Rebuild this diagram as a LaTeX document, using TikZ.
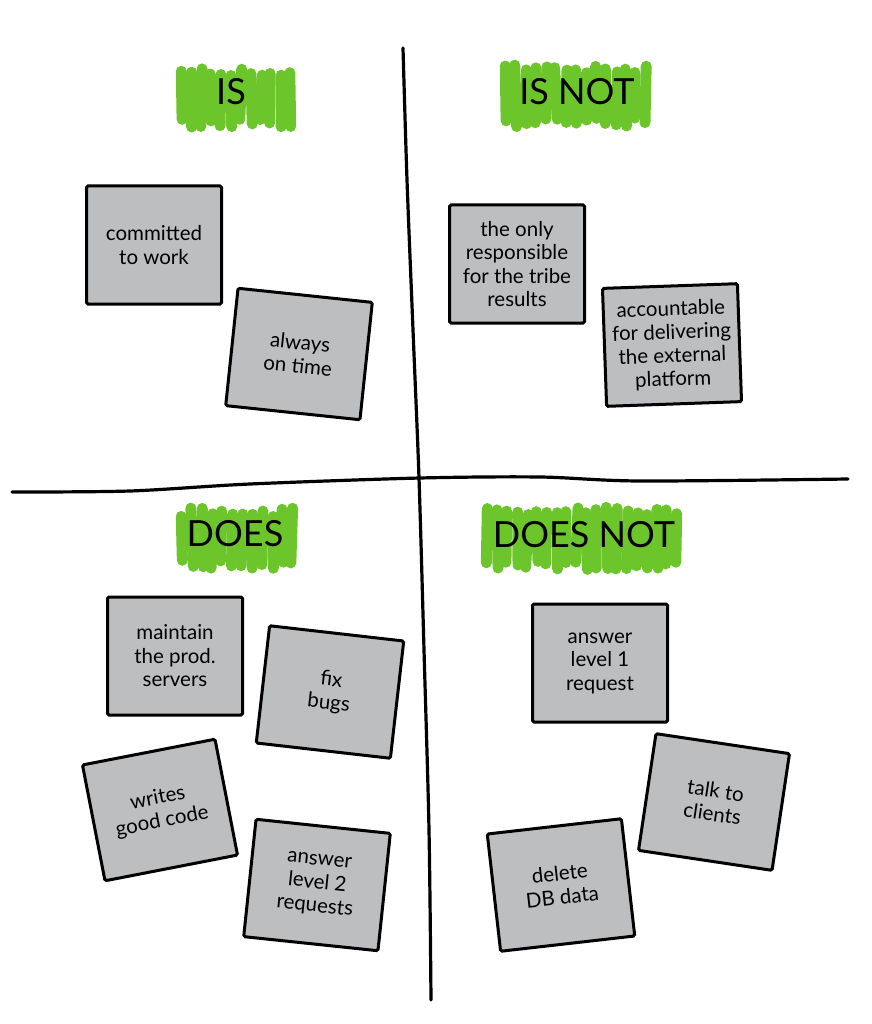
\documentclass[tikz,border=0pt]{standalone}
\usepackage{fontspec}
\setmainfont{Lato}
\usetikzlibrary{decorations.pathmorphing}

\definecolor{cardgray}{HTML}{BDBEC0}
\definecolor{markgreen}{HTML}{6DC52C}

\tikzset{
    card/.style={draw=black, fill=cardgray, line width=3pt, rounded corners=1.5pt,
        minimum width=135pt, minimum height=118pt, align=center, inner sep=2pt,
        font=\fontsize{20.5}{23.5}\selectfont},
    greenstroke/.style={markgreen, line width=11pt, line cap=round},
    heading/.style={font=\fontsize{36}{40}\selectfont, inner sep=0pt},
    penline/.style={line width=3.2pt, line cap=round, line join=round}
}

\begin{document}
\begin{tikzpicture}[x=1pt, y=-1pt]
    % Fix the page to the size of the reference
    \useasboundingbox (0,0) rectangle (871,1024);
    \pgfmathsetseed{7}

    % Draw the two axes that split the board into four quarters
    \draw[penline] plot[smooth] coordinates {(403,48) (407,180) (413,330) (419,478) (424,650) (429,830) (431,1000)};
    \draw[penline] plot[smooth] coordinates {(12,492) (130,491) (250,484) (420,478) (540,477) (640,481) (848,479)};

    % Green marker behind the headings
    \foreach \xx in {181,191,...,291}
        \draw[greenstroke] (\xx+1.5*rand, 67+9*rnd) -- (\xx+1.5*rand, 128-9*rnd);
    \foreach \xx in {506,516,...,652}
        \draw[greenstroke] (\xx+1.5*rand, 65+9*rnd) -- (\xx+1.5*rand, 127-9*rnd);
    \foreach \xx in {182,192,...,292}
        \draw[greenstroke] (\xx+1.5*rand, 508+9*rnd) -- (\xx+1.5*rand, 569-9*rnd);
    \foreach \xx in {487,497,...,683}
        \draw[greenstroke] (\xx+1.5*rand, 506+9*rnd) -- (\xx+1.5*rand, 570-9*rnd);

    % Label the quarters
    \node[heading] (is) at (231,92) {IS};
    \node[heading] (isnot) at (577,92) {IS NOT};
    \node[heading] (does) at (235,534) {DOES};
    \node[heading] (doesnot) at (584,535) {DOES NOT};

    % Cards for IS
    \node[card] (committed) at (154,245) {committed\\to work};
    \node[card, rotate=-6] (ontime) at (299,354) {always\\on time};

    % Cards for IS NOT
    \node[card] (responsible) at (517,264) {the only\\responsible\\for the tribe\\results};
    \node[card, rotate=2] (accountable) at (672,345) {accountable\\for delivering\\the external\\platform};

    % Cards for DOES
    \node[card] (maintain) at (175,656) {maintain\\the prod.\\servers};
    \node[card, rotate=-6.5] (fixbugs) at (330,692) {fix\\bugs};
    \node[card, rotate=11] (goodcode) at (160,810) {writes\\good code};
    \node[card, rotate=-6] (levelTwo) at (317,885) {answer\\level 2\\requests};

    % Cards for DOES NOT
    \node[card] (levelOne) at (600,663) {answer\\level 1\\request};
    \node[card, rotate=-8.5] (clients) at (714,802) {talk to\\clients};
    \node[card, rotate=6.5] (deletedb) at (561,885) {delete\\DB data};
\end{tikzpicture}
\end{document}
